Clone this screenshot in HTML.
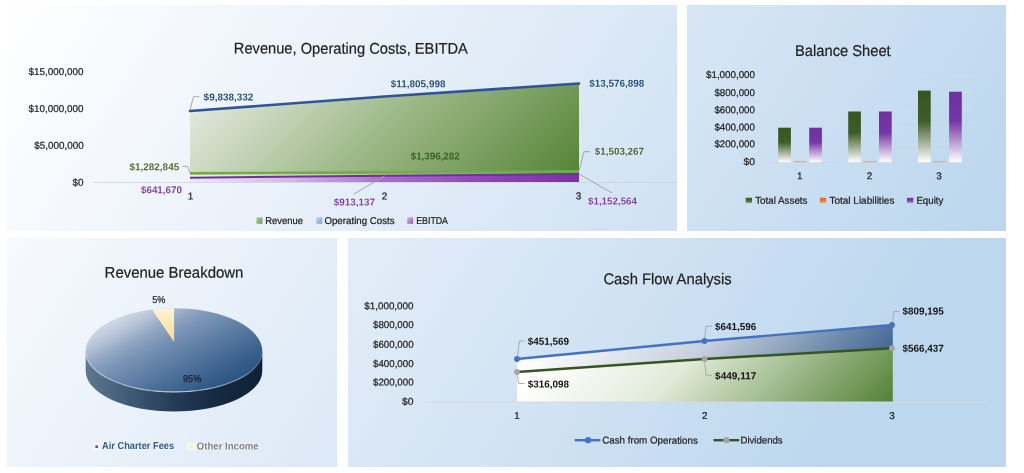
<!DOCTYPE html>
<html>
<head>
<meta charset="utf-8">
<title>Dashboard</title>
<style>
html,body{margin:0;padding:0;background:#fff;}
body{width:1024px;height:473px;overflow:hidden;font-family:"Liberation Sans",sans-serif;}
svg{display:block;will-change:transform;}
text{font-family:"Liberation Sans",sans-serif;}
.ax{font-size:9.9px;fill:#1c1c1c;stroke:#1c1c1c;stroke-width:0.22px;}
.ttl{font-size:15.6px;fill:#222;stroke:#222;stroke-width:0.2px;}
.b{font-size:10.1px;font-weight:bold;}
.gl{paint-order:stroke;stroke:#ffffff;stroke-opacity:0.4;stroke-width:1.6px;stroke-linejoin:round;}
</style>
</head>
<body>
<svg width="1024" height="473" viewBox="0 0 1024 473">
<defs>
  <linearGradient id="bg" gradientUnits="userSpaceOnUse" x1="0" y1="0" x2="805" y2="501">
    <stop offset="0" stop-color="#ffffff"/>
    <stop offset="0.45" stop-color="#e3edf8"/>
    <stop offset="1" stop-color="#bdd7ee"/>
  </linearGradient>
  <!-- chart 1 -->
  <linearGradient id="c1g" gradientUnits="userSpaceOnUse" x1="190" y1="83" x2="434" y2="327">
    <stop offset="0" stop-color="#ecefe9"/>
    <stop offset="0.5" stop-color="#9cb886"/>
    <stop offset="1" stop-color="#548235"/>
  </linearGradient>
  <linearGradient id="c1p" gradientUnits="userSpaceOnUse" x1="190" y1="0" x2="579" y2="0">
    <stop offset="0" stop-color="#f0e7f6"/>
    <stop offset="0.25" stop-color="#d6b9e6"/>
    <stop offset="0.5" stop-color="#a86ecb"/>
    <stop offset="0.75" stop-color="#8c47ba"/>
    <stop offset="1" stop-color="#7a31ab"/>
  </linearGradient>
  <linearGradient id="c1band" gradientUnits="userSpaceOnUse" x1="190" y1="0" x2="579" y2="0">
    <stop offset="0" stop-color="#eef2ea"/>
    <stop offset="0.4" stop-color="#b9cfa6"/>
    <stop offset="1" stop-color="#6a9b48"/>
  </linearGradient>
  <linearGradient id="lgG" x1="0" y1="0" x2="1" y2="1"><stop offset="0" stop-color="#b5cc9f"/><stop offset="1" stop-color="#6b9a4a"/></linearGradient>
  <linearGradient id="lgB" x1="0" y1="0" x2="1" y2="1"><stop offset="0" stop-color="#c3d4ea"/><stop offset="1" stop-color="#7ba3d4"/></linearGradient>
  <linearGradient id="lgP" x1="0" y1="0" x2="1" y2="1"><stop offset="0" stop-color="#d3b5e3"/><stop offset="1" stop-color="#9a58bf"/></linearGradient>
</defs>

<!-- page background gradient + white gutters -->
<rect x="0" y="0" width="1024" height="473" fill="url(#bg)"/>
<rect x="0" y="0" width="1024" height="5" fill="#fff"/>
<rect x="0" y="467" width="1024" height="6" fill="#fff"/>
<rect x="0" y="0" width="7" height="473" fill="#fff"/>
<rect x="1006" y="0" width="18" height="473" fill="#fff"/>
<rect x="0" y="231" width="1024" height="7" fill="#fff"/>
<rect x="677" y="0" width="10" height="234" fill="#fff"/>
<rect x="337" y="234" width="11" height="239" fill="#fff"/>

<!-- ================= CHART 1 ================= -->
<g id="chart1">
  <text class="ttl" x="233.8" y="53.6" textLength="234" lengthAdjust="spacingAndGlyphs" transform="rotate(0.03 233.8 53.6)">Revenue, Operating Costs, EBITDA</text>
  <!-- axis -->
  <line x1="93.5" y1="182.5" x2="676" y2="182.5" stroke="#cdd5df" stroke-width="1" stroke-opacity="0.85"/>
  <!-- revenue area -->
  <polygon points="190,111 384.5,96.5 579,83.5 579,182 190,182" fill="url(#c1g)"/>
  <!-- band between green and purple lines -->
  <polygon points="190,173.4 384.5,172.4 579,171.3 579,174 384.5,175.6 190,177.6" fill="url(#c1band)"/>
  <!-- purple area -->
  <polygon points="190,177.6 384.5,175.6 579,173.6 579,182 190,182" fill="url(#c1p)"/>
  <polyline points="190,177.7 384.5,175.8 579,174" fill="none" stroke="#7030a0" stroke-width="2"/>
  <!-- light green line -->
  <polyline points="190,173.4 384.5,172.4 579,171.3" fill="none" stroke="#70ad47" stroke-width="2.6"/>
  <!-- dark blue top line -->
  <polyline points="190,111 384.5,96.5 579,83.5" fill="none" stroke="#2f5597" stroke-width="2.6" stroke-linecap="round"/>
  <!-- leader lines -->
  <g fill="none" stroke="#9aa1a8" stroke-width="0.9">
    <polyline points="190,110 193.5,96.7 199.5,96.7"/>
    <polyline points="182.5,166.3 187.5,166.3 190,173"/>
    <polyline points="579,171 584,151.7 590,151.7"/>
    <polyline points="579,174 612,193"/>
    <polyline points="384.5,176 354,194"/>
    <polyline points="384.5,175 410,158" stroke-opacity="0.15"/>
  </g>
  <!-- y labels -->
  <text class="ax" x="28.6" y="74.9" textLength="54.8" lengthAdjust="spacingAndGlyphs" transform="rotate(0.03 28.6 74.9)">$15,000,000</text>
  <text class="ax" x="28.6" y="111.9" textLength="54.8" lengthAdjust="spacingAndGlyphs" transform="rotate(0.03 28.6 111.9)">$10,000,000</text>
  <text class="ax" x="34.3" y="148.8" textLength="49.5" lengthAdjust="spacingAndGlyphs" transform="rotate(0.03 34.3 148.8)">$5,000,000</text>
  <text class="ax" x="72.4" y="185.8" textLength="11" lengthAdjust="spacingAndGlyphs" transform="rotate(0.03 72.4 185.8)">$0</text>
  <!-- category labels -->
  <text class="ax" x="190.4" y="199.6" text-anchor="middle" transform="rotate(0.03 190.4 199.6)">1</text>
  <text class="ax" x="384.6" y="199.6" text-anchor="middle" transform="rotate(0.03 384.6 199.6)">2</text>
  <text class="ax" x="578.6" y="199.2" text-anchor="middle" transform="rotate(0.03 578.6 199.2)">3</text>
  <!-- data labels -->
  <text class="b gl" fill="#24507d" x="203.6" y="100.6" textLength="49.8" lengthAdjust="spacingAndGlyphs" transform="rotate(0.03 203.6 100.6)">$9,838,332</text>
  <text class="b gl" fill="#24507d" x="390.7" y="87.2" textLength="54.8" lengthAdjust="spacingAndGlyphs" transform="rotate(0.03 390.7 87.2)">$11,805,998</text>
  <text class="b gl" fill="#24507d" x="589.2" y="86.7" textLength="55.2" lengthAdjust="spacingAndGlyphs" transform="rotate(0.03 589.2 86.7)">$13,576,898</text>
  <text class="b gl" fill="#526d3a" x="129.5" y="170.2" textLength="49.7" lengthAdjust="spacingAndGlyphs" transform="rotate(0.03 129.5 170.2)">$1,282,845</text>
  <text class="b" fill="#3b612d" x="410.7" y="159.45" textLength="49" lengthAdjust="spacingAndGlyphs" transform="rotate(0.03 410.7 159.45)">$1,396,282</text>
  <text class="b gl" fill="#4a6338" x="594.8" y="154.8" textLength="49.2" lengthAdjust="spacingAndGlyphs" transform="rotate(0.03 594.8 154.8)">$1,503,267</text>
  <text class="b gl" fill="#7d3fab" x="141" y="193.2" textLength="40.9" lengthAdjust="spacingAndGlyphs" transform="rotate(0.03 141 193.2)">$641,670</text>
  <text class="b gl" fill="#7d3fab" x="333.8" y="205.45" textLength="41.2" lengthAdjust="spacingAndGlyphs" transform="rotate(0.03 333.8 205.45)">$913,137</text>
  <text class="b gl" fill="#7d3fab" x="588" y="204.45" textLength="49" lengthAdjust="spacingAndGlyphs" transform="rotate(0.03 588 204.45)">$1,152,564</text>
  <!-- legend -->
  <rect x="256.5" y="217.4" width="6" height="6.4" fill="url(#lgG)"/>
  <text class="ax" x="265.3" y="224" textLength="37.6" lengthAdjust="spacingAndGlyphs" transform="rotate(0.03 265.3 224)">Revenue</text>
  <rect x="316.3" y="217.4" width="6" height="6.4" fill="url(#lgB)"/>
  <text class="ax" x="324.4" y="224" textLength="70.3" lengthAdjust="spacingAndGlyphs" transform="rotate(0.03 324.4 224)">Operating Costs</text>
  <rect x="407.1" y="217.4" width="6" height="6.4" fill="url(#lgP)"/>
  <text class="ax" x="416.2" y="224" textLength="31.8" lengthAdjust="spacingAndGlyphs" transform="rotate(0.03 416.2 224)">EBITDA</text>
</g>

<!-- ================= CHART 2 ================= -->
<g id="chart2">
  <defs>
    <linearGradient id="barG" x1="0" y1="0" x2="0" y2="1">
      <stop offset="0" stop-color="#375623"/><stop offset="0.42" stop-color="#3d5c29"/><stop offset="1" stop-color="#ffffff"/>
    </linearGradient>
    <linearGradient id="barP" x1="0" y1="0" x2="0" y2="1">
      <stop offset="0" stop-color="#7030a0"/><stop offset="0.42" stop-color="#7636a5"/><stop offset="1" stop-color="#ffffff"/>
    </linearGradient>
    <linearGradient id="l2G" x1="0" y1="0" x2="0" y2="1"><stop offset="0" stop-color="#375623"/><stop offset="0.6" stop-color="#4a6a36"/><stop offset="1" stop-color="#9fb391"/></linearGradient>
    <linearGradient id="l2O" x1="0" y1="0" x2="0" y2="1"><stop offset="0" stop-color="#e26b1a"/><stop offset="0.6" stop-color="#ed7d31"/><stop offset="1" stop-color="#f5b991"/></linearGradient>
    <linearGradient id="l2P" x1="0" y1="0" x2="0" y2="1"><stop offset="0" stop-color="#7030a0"/><stop offset="0.6" stop-color="#8246ae"/><stop offset="1" stop-color="#c3a3d9"/></linearGradient>
  </defs>
  <text class="ttl" x="795" y="55.9" textLength="95.7" lengthAdjust="spacingAndGlyphs" transform="rotate(0.03 795 55.9)">Balance Sheet</text>
  <!-- gridlines -->
  <g stroke="#d6dfe9" stroke-width="1" stroke-opacity="0.4">
    <line x1="765.5" y1="75.5" x2="974" y2="75.5"/>
    <line x1="765.5" y1="92.5" x2="974" y2="92.5"/>
    <line x1="765.5" y1="110.5" x2="974" y2="110.5"/>
    <line x1="765.5" y1="127.5" x2="974" y2="127.5"/>
    <line x1="765.5" y1="144.5" x2="974" y2="144.5"/>
    <line x1="765.5" y1="162.5" x2="974" y2="162.5" stroke="#cdd5de"/>
  </g>
  <!-- bars -->
  <rect x="778.2" y="127.7" width="12.7" height="34.5" fill="url(#barG)"/>
  <rect x="794" y="161" width="12.7" height="1.3" fill="#f0a070" fill-opacity="0.8"/>
  <rect x="809.2" y="127.7" width="12.7" height="34.5" fill="url(#barP)"/>
  <rect x="848.2" y="111.5" width="12.7" height="50.7" fill="url(#barG)"/>
  <rect x="863.6" y="161" width="12.7" height="1.3" fill="#f0a070" fill-opacity="0.8"/>
  <rect x="879" y="111.5" width="12.7" height="50.7" fill="url(#barP)"/>
  <rect x="918" y="90.6" width="12.7" height="71.6" fill="url(#barG)"/>
  <rect x="933.2" y="161" width="12.7" height="1.3" fill="#f0a070" fill-opacity="0.8"/>
  <rect x="949.1" y="91.7" width="12.7" height="70.5" fill="url(#barP)"/>
  <!-- y labels -->
  <text class="ax" x="706" y="78" textLength="49" lengthAdjust="spacingAndGlyphs" transform="rotate(0.03 706 78)">$1,000,000</text>
  <text class="ax" x="714.4" y="96" textLength="40.5" lengthAdjust="spacingAndGlyphs" transform="rotate(0.03 714.4 96)">$800,000</text>
  <text class="ax" x="714.4" y="113.2" textLength="40.5" lengthAdjust="spacingAndGlyphs" transform="rotate(0.03 714.4 113.2)">$600,000</text>
  <text class="ax" x="714.4" y="130.45" textLength="40.5" lengthAdjust="spacingAndGlyphs" transform="rotate(0.03 714.4 130.45)">$400,000</text>
  <text class="ax" x="714.4" y="147.2" textLength="40.5" lengthAdjust="spacingAndGlyphs" transform="rotate(0.03 714.4 147.2)">$200,000</text>
  <text class="ax" x="743.4" y="164.9" textLength="11.5" lengthAdjust="spacingAndGlyphs" transform="rotate(0.03 743.4 164.9)">$0</text>
  <!-- categories -->
  <text class="ax" x="799.7" y="179.3" text-anchor="middle" transform="rotate(0.03 799.7 179.3)">1</text>
  <text class="ax" x="869.5" y="179.3" text-anchor="middle" transform="rotate(0.03 869.5 179.3)">2</text>
  <text class="ax" x="939" y="179.3" text-anchor="middle" transform="rotate(0.03 939 179.3)">3</text>
  <!-- legend -->
  <rect x="745.7" y="197.8" width="6.3" height="5.4" fill="url(#l2G)"/>
  <text class="ax" x="755.2" y="203.8" textLength="52.3" lengthAdjust="spacingAndGlyphs" transform="rotate(0.03 755.2 203.8)">Total Assets</text>
  <rect x="819.8" y="197.8" width="6.3" height="5.4" fill="url(#l2O)"/>
  <text class="ax" x="829.5" y="203.8" textLength="64.9" lengthAdjust="spacingAndGlyphs" transform="rotate(0.03 829.5 203.8)">Total Liabilities</text>
  <rect x="907" y="197.8" width="6.3" height="5.4" fill="url(#l2P)"/>
  <text class="ax" x="916.4" y="203.8" textLength="27" lengthAdjust="spacingAndGlyphs" transform="rotate(0.03 916.4 203.8)">Equity</text>
</g>

<!-- ================= CHART 3 ================= -->
<g id="chart3">
  <defs>
    <linearGradient id="pieTop" gradientUnits="userSpaceOnUse" x1="147.9" y1="301.8" x2="200.1" y2="400.2">
      <stop offset="0" stop-color="#d0d9e5"/>
      <stop offset="0.12" stop-color="#b7c4d7"/>
      <stop offset="0.26" stop-color="#8fa5c2"/>
      <stop offset="0.4" stop-color="#7690b3"/>
      <stop offset="0.6" stop-color="#5a7ba2"/>
      <stop offset="0.8" stop-color="#3f6591"/>
      <stop offset="1" stop-color="#2a5280"/>
    </linearGradient>
    <linearGradient id="pieSide" gradientUnits="userSpaceOnUse" x1="85.7" y1="0" x2="262.3" y2="0">
      <stop offset="0" stop-color="#60778f"/>
      <stop offset="0.25" stop-color="#3f5a77"/>
      <stop offset="0.5" stop-color="#243c57"/>
      <stop offset="0.75" stop-color="#152940"/>
      <stop offset="1" stop-color="#102136"/>
    </linearGradient>
    <linearGradient id="pieSl" gradientUnits="userSpaceOnUse" x1="0" y1="307" x2="0" y2="341">
      <stop offset="0" stop-color="#fdf5de"/>
      <stop offset="1" stop-color="#fadb8c"/>
    </linearGradient>
    <linearGradient id="pieRim" gradientUnits="userSpaceOnUse" x1="85.7" y1="0" x2="262.3" y2="0">
      <stop offset="0" stop-color="#c9d3e0" stop-opacity="0.75"/>
      <stop offset="0.5" stop-color="#d5dde8" stop-opacity="0.95"/>
      <stop offset="0.85" stop-color="#aebfd3" stop-opacity="0.8"/>
      <stop offset="1" stop-color="#6f8cae" stop-opacity="0.3"/>
    </linearGradient>
  </defs>
  <text class="ttl" x="104.6" y="277.8" textLength="138.8" lengthAdjust="spacingAndGlyphs" transform="rotate(0.03 104.6 277.8)">Revenue Breakdown</text>
  <!-- side wall -->
  <path d="M85.7,351 L85.7,371 A88.3,40.5 0 0 0 262.3,371 L262.3,351 A88.3,40.5 0 0 1 85.7,351 Z" fill="url(#pieSide)"/>
  <!-- top face -->
  <path d="M85.7,351 A88.3,42.8 0 0 1 262.3,351 A88.3,40.5 0 0 1 85.7,351 Z" fill="url(#pieTop)"/>
  <!-- rim highlight -->
  <path d="M85.7,351.5 A88.3,40.5 0 0 0 262.3,351.5" fill="none" stroke="url(#pieRim)" stroke-width="1.1"/>
  <!-- 5% slice -->
  <path d="M174.1,341.9 L174.1,308.2 A88.3,42.8 0 0 0 152,309.6 Z" fill="url(#pieSl)"/>
  <text class="ax" x="158.9" y="303.3" text-anchor="middle" textLength="13.2" lengthAdjust="spacingAndGlyphs" transform="rotate(0.03 158.9 303.3)">5%</text>
  <text class="ax" x="192.2" y="381.7" text-anchor="middle" textLength="18.4" lengthAdjust="spacingAndGlyphs" style="fill:#162438" transform="rotate(0.03 192.2 381.7)">95%</text>
  <!-- legend -->
  <rect x="92.7" y="442.7" width="7.8" height="7.8" fill="#f7f9fc" opacity="0.9"/>
  <rect x="95.4" y="445.4" width="2.6" height="2.6" fill="#3d648f"/>
  <text class="b gl" fill="#2e5985" x="102" y="449.45" textLength="72.1" lengthAdjust="spacingAndGlyphs" transform="rotate(0.03 102 449.45)">Air Charter Fees</text>
  <rect x="187" y="442.7" width="8.2" height="7.8" fill="#f8f8f4" opacity="0.9"/>
  <rect x="188.8" y="444.6" width="4.4" height="4.2" fill="#fbeecb"/>
  <text class="b gl" fill="#858585" x="196.8" y="449.45" textLength="61.9" lengthAdjust="spacingAndGlyphs" transform="rotate(0.03 196.8 449.45)">Other Income</text>
</g>

<!-- ================= CHART 4 ================= -->
<g id="chart4">
  <defs>
    <linearGradient id="c4b" gradientUnits="userSpaceOnUse" x1="517" y1="325" x2="728" y2="536">
      <stop offset="0" stop-color="#ffffff"/>
      <stop offset="0.1" stop-color="#ffffff"/>
      <stop offset="0.5" stop-color="#c6cfdc"/>
      <stop offset="0.95" stop-color="#3f6692"/>
      <stop offset="1" stop-color="#3a618f"/>
    </linearGradient>
    <linearGradient id="c4g" gradientUnits="userSpaceOnUse" x1="517" y1="348" x2="731.5" y2="562.5">
      <stop offset="0" stop-color="#ffffff"/>
      <stop offset="0.1" stop-color="#ffffff"/>
      <stop offset="0.43" stop-color="#e2ebda"/>
      <stop offset="1" stop-color="#548235"/>
    </linearGradient>
  </defs>
  <text class="ttl" x="603.4" y="284.3" textLength="128.3" lengthAdjust="spacingAndGlyphs" transform="rotate(0.03 603.4 284.3)">Cash Flow Analysis</text>
  <!-- axis -->
  <line x1="423.3" y1="402" x2="986.3" y2="402" stroke="#d3d9e0" stroke-width="1"/>
  <!-- blue area (between lines) -->
  <polygon points="517,359 704.5,341 892.8,325 892.8,348.2 704.5,359 517,372" fill="url(#c4b)"/>
  <!-- green area -->
  <polygon points="517,372 704.5,359 892.8,348.2 892.8,401.6 517,401.6" fill="url(#c4g)"/>
  <!-- lines -->
  <polyline points="517,372 704.5,359 892,348.2" fill="none" stroke="#375623" stroke-width="2.4" stroke-linecap="round"/>
  <polyline points="517,359 704.5,341 892,325" fill="none" stroke="#4472c4" stroke-width="2.4" stroke-linecap="round"/>
  <!-- leader lines -->
  <g fill="none" stroke="#a0a7af" stroke-width="0.9">
    <polyline points="517.5,356 519.4,341 524.5,341"/>
    <polyline points="517.5,375 518.7,383.5 524.5,383.5"/>
    <polyline points="704.8,338 706,326.2 712,326.2"/>
    <polyline points="704.8,362 706,375.3 712,375.3"/>
    <polyline points="892.3,322 894,311.4 899.5,311.4"/>
  </g>
  <!-- markers -->
  <g fill="#a5a5a5">
    <circle cx="517" cy="372" r="2.9"/><circle cx="704.5" cy="359" r="2.9"/><circle cx="892" cy="348.2" r="2.9"/>
  </g>
  <g fill="#4472c4">
    <circle cx="517" cy="359" r="2.9"/><circle cx="704.5" cy="341" r="2.9"/><circle cx="892" cy="325" r="2.9"/>
  </g>
  <!-- y labels -->
  <text class="ax" x="364.2" y="309.2" textLength="49.4" lengthAdjust="spacingAndGlyphs" transform="rotate(0.03 364.2 309.2)">$1,000,000</text>
  <text class="ax" x="373" y="328.1" textLength="40.6" lengthAdjust="spacingAndGlyphs" transform="rotate(0.03 373 328.1)">$800,000</text>
  <text class="ax" x="373" y="347.7" textLength="40.6" lengthAdjust="spacingAndGlyphs" transform="rotate(0.03 373 347.7)">$600,000</text>
  <text class="ax" x="373" y="366.9" textLength="40.6" lengthAdjust="spacingAndGlyphs" transform="rotate(0.03 373 366.9)">$400,000</text>
  <text class="ax" x="373" y="385.45" textLength="40.6" lengthAdjust="spacingAndGlyphs" transform="rotate(0.03 373 385.45)">$200,000</text>
  <text class="ax" x="402.1" y="404.8" textLength="11.5" lengthAdjust="spacingAndGlyphs" transform="rotate(0.03 402.1 404.8)">$0</text>
  <!-- categories -->
  <text class="ax" x="517" y="419" text-anchor="middle" transform="rotate(0.03 517 419)">1</text>
  <text class="ax" x="704.7" y="419" text-anchor="middle" transform="rotate(0.03 704.7 419)">2</text>
  <text class="ax" x="892" y="419" text-anchor="middle" transform="rotate(0.03 892 419)">3</text>
  <!-- data labels -->
  <g fill="#111">
  <text class="b" x="527.7" y="344.8" textLength="41.2" lengthAdjust="spacingAndGlyphs" transform="rotate(0.03 527.7 344.8)">$451,569</text>
  <text class="b" x="527.7" y="387.4" textLength="41.2" lengthAdjust="spacingAndGlyphs" transform="rotate(0.03 527.7 387.4)">$316,098</text>
  <text class="b" x="715.1" y="330" textLength="41.2" lengthAdjust="spacingAndGlyphs" transform="rotate(0.03 715.1 330)">$641,596</text>
  <text class="b" x="715.1" y="379.2" textLength="41.2" lengthAdjust="spacingAndGlyphs" transform="rotate(0.03 715.1 379.2)">$449,117</text>
  <text class="b" x="902.6" y="314.45" textLength="41.2" lengthAdjust="spacingAndGlyphs" transform="rotate(0.03 902.6 314.45)">$809,195</text>
  <text class="b" x="902.6" y="351.8" textLength="41.2" lengthAdjust="spacingAndGlyphs" transform="rotate(0.03 902.6 351.8)">$566,437</text>
  </g>
  <!-- legend -->
  <line x1="574.8" y1="440.2" x2="600.3" y2="440.2" stroke="#4472c4" stroke-width="2.4"/>
  <circle cx="588.1" cy="440.2" r="3.1" fill="#4472c4"/>
  <text class="ax" x="602.2" y="443.6" textLength="95.6" lengthAdjust="spacingAndGlyphs" transform="rotate(0.03 602.2 443.6)">Cash from Operations</text>
  <line x1="713.5" y1="440.2" x2="739.3" y2="440.2" stroke="#375623" stroke-width="2.4"/>
  <circle cx="726.4" cy="440.2" r="3.1" fill="#a5a5a5"/>
  <text class="ax" x="740.5" y="443.6" textLength="42.1" lengthAdjust="spacingAndGlyphs" transform="rotate(0.03 740.5 443.6)">Dividends</text>
</g>

</svg>
</body>
</html>
